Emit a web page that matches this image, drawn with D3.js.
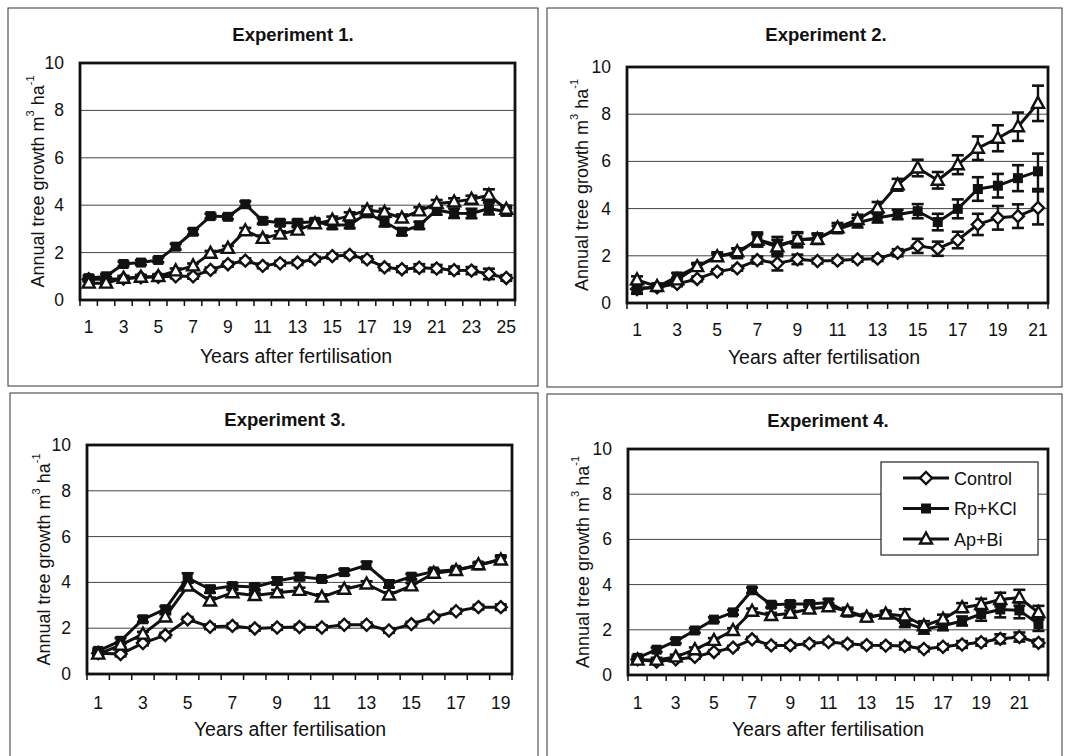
<!DOCTYPE html>
<html><head><meta charset="utf-8">
<script src="https://cdn.jsdelivr.net/npm/d3@7"></script>
<style>body{margin:0;background:#fff}svg{display:block;font-family:"Liberation Sans",Arial,sans-serif}</style>
</head><body><svg id="c" width="1066" height="756"></svg>
<script>
// ---------------- DATA ----------------
const seriesNames = ["Control", "Rp+KCl", "Ap+Bi"];
const yTicks = [0, 2, 4, 6, 8, 10];
const titles = ["Experiment 1.", "Experiment 2.", "Experiment 3.", "Experiment 4."];
const nYears = [25, 21, 19, 22];

const control1 = [0.88,0.88,0.9,0.96,0.98,1.0,1.0,1.27,1.51,1.66,1.44,1.55,1.58,1.72,1.85,1.9,1.72,1.38,1.3,1.36,1.33,1.26,1.24,1.1,0.93];
const rp1 = [0.92,1.0,1.52,1.58,1.69,2.25,2.88,3.54,3.51,4.04,3.34,3.26,3.26,3.3,3.15,3.18,3.66,3.3,2.88,3.15,3.8,3.66,3.65,3.86,3.72];
const ap1 = [0.71,0.71,0.92,0.96,0.99,1.23,1.44,1.97,2.18,2.92,2.6,2.78,2.95,3.22,3.37,3.55,3.8,3.7,3.46,3.76,4.07,4.14,4.25,4.42,3.83];
const controlErr1 = [0.1,0.08,0.08,0.08,0.08,0.08,0.1,0.1,0.1,0.1,0.1,0.1,0.1,0.1,0.1,0.1,0.12,0.12,0.12,0.15,0.15,0.15,0.15,0.22,0.12];
const rpErr1 = [0.12,0.1,0.1,0.1,0.1,0.12,0.12,0.1,0.1,0.12,0.12,0.12,0.12,0.12,0.15,0.15,0.15,0.2,0.15,0.15,0.2,0.2,0.2,0.25,0.15];
const apErr1 = [0.1,0.1,0.1,0.1,0.1,0.1,0.1,0.1,0.1,0.12,0.12,0.12,0.12,0.12,0.15,0.15,0.15,0.15,0.15,0.15,0.15,0.15,0.15,0.25,0.15];

const control2 = [0.59,0.67,0.81,1.02,1.33,1.47,1.82,1.68,1.85,1.78,1.8,1.85,1.88,2.13,2.42,2.3,2.67,3.33,3.61,3.68,4.03];
const rp2 = [0.63,0.67,1.12,1.54,1.99,2.1,2.69,2.45,2.66,2.75,3.12,3.4,3.61,3.75,3.89,3.43,3.99,4.83,4.97,5.29,5.58];
const ap2 = [0.98,0.7,0.98,1.54,1.96,2.17,2.66,2.38,2.7,2.7,3.19,3.54,4.03,5.01,5.72,5.2,5.86,6.56,6.98,7.47,8.46];
const controlErr2 = [0.2,0.1,0.1,0.1,0.1,0.1,0.15,0.3,0.2,0.1,0.1,0.1,0.1,0.15,0.3,0.3,0.35,0.45,0.5,0.5,0.7];
const rpErr2 = [0.2,0.15,0.15,0.15,0.15,0.2,0.3,0.35,0.3,0.2,0.15,0.2,0.2,0.2,0.3,0.35,0.4,0.5,0.5,0.55,0.75];
const apErr2 = [0.15,0.1,0.1,0.1,0.1,0.15,0.25,0.3,0.3,0.2,0.2,0.2,0.25,0.25,0.35,0.35,0.4,0.5,0.55,0.6,0.75];

const control3 = [0.91,0.87,1.35,1.7,2.39,2.06,2.1,1.99,2.03,2.05,2.03,2.15,2.15,1.9,2.18,2.49,2.74,2.92,2.92];
const rp3 = [1.01,1.45,2.39,2.83,4.2,3.7,3.84,3.8,4.06,4.25,4.15,4.45,4.75,3.93,4.25,4.48,4.55,4.74,5.02];
const ap3 = [0.87,1.26,1.74,2.49,3.84,3.19,3.55,3.43,3.55,3.65,3.36,3.7,3.93,3.45,3.85,4.4,4.52,4.77,4.98];
const controlErr3 = [0.1,0.1,0.1,0.1,0.1,0.1,0.1,0.1,0.1,0.1,0.1,0.1,0.1,0.1,0.1,0.1,0.1,0.1,0.12];
const rpErr3 = [0.1,0.12,0.12,0.12,0.2,0.15,0.12,0.12,0.15,0.15,0.1,0.12,0.15,0.15,0.12,0.1,0.1,0.1,0.15];
const apErr3 = [0.1,0.1,0.1,0.12,0.15,0.15,0.12,0.12,0.12,0.12,0.12,0.12,0.12,0.12,0.12,0.1,0.1,0.1,0.12];

const control4 = [0.69,0.6,0.69,0.8,1.02,1.21,1.58,1.31,1.31,1.39,1.46,1.38,1.32,1.3,1.28,1.15,1.25,1.35,1.45,1.6,1.68,1.42];
const rp4 = [0.76,1.12,1.5,1.97,2.45,2.77,3.75,3.11,3.14,3.14,3.21,2.76,2.54,2.69,2.32,2.03,2.18,2.39,2.7,2.9,2.86,2.25];
const ap4 = [0.66,0.66,0.8,1.12,1.53,1.97,2.82,2.63,2.73,2.92,3.02,2.83,2.56,2.7,2.61,2.18,2.47,2.98,3.12,3.34,3.42,2.76];
const controlErr4 = [0.1,0.08,0.08,0.08,0.08,0.08,0.1,0.1,0.1,0.1,0.1,0.1,0.1,0.1,0.15,0.1,0.12,0.15,0.15,0.2,0.2,0.15];
const rpErr4 = [0.1,0.1,0.1,0.1,0.1,0.1,0.12,0.12,0.12,0.12,0.15,0.15,0.12,0.12,0.2,0.2,0.2,0.2,0.3,0.35,0.35,0.3];
const apErr4 = [0.1,0.1,0.1,0.1,0.1,0.1,0.12,0.12,0.12,0.12,0.15,0.15,0.12,0.12,0.3,0.2,0.2,0.2,0.25,0.3,0.35,0.3];

// ---------------- LAYOUT ----------------
const panels = [
  {frame:[8,8,538,386], plot:[80,63,515,300], title:[293,35], tickY:333, xTitleY:363, xTitleX:296, yTitleX:38,
   series:[[control1,controlErr1],[rp1,rpErr1],[ap1,apErr1]]},
  {frame:[547,8,1062,387], plot:[627,67,1048,303], title:[826,35], tickY:336, xTitleY:364, xTitleX:824, yTitleX:582,
   series:[[control2,controlErr2],[rp2,rpErr2],[ap2,apErr2]]},
  {frame:[10,393,538,770], plot:[87,445,512,674], title:[285,420], tickY:709, xTitleY:736, xTitleX:290, yTitleX:44,
   series:[[control3,controlErr3],[rp3,rpErr3],[ap3,apErr3]]},
  {frame:[547,394,1062,770], plot:[628,449,1048,675], title:[828,421], tickY:709, xTitleY:736, xTitleX:828, yTitleX:583,
   series:[[control4,controlErr4],[rp4,rpErr4],[ap4,apErr4]], legend:true}
];

const svg = d3.select("#c");

function drawMarker(g, type, x, y) {
  if (type === 0) {
    g.append("path").attr("d", `M${x},${y-6}L${x+6},${y}L${x},${y+6}L${x-6},${y}Z`)
      .attr("fill", "#fff").attr("stroke", "#111").attr("stroke-width", 2.4);
  } else if (type === 1) {
    g.append("rect").attr("x", x-5).attr("y", y-5).attr("width", 10).attr("height", 10).attr("fill", "#111");
  } else {
    g.append("path").attr("d", `M${x},${y-6.5}L${x+6},${y+4.5}L${x-6},${y+4.5}Z`)
      .attr("fill", "#fff").attr("stroke", "#111").attr("stroke-width", 2.4);
  }
}

panels.forEach((p, pi) => {
  const [fx0, fy0, fx1, fy1] = p.frame;
  svg.append("rect").attr("x", fx0).attr("y", fy0).attr("width", fx1 - fx0).attr("height", fy1 - fy0)
    .attr("fill", "none").attr("stroke", "#333").attr("stroke-width", 1);

  const [px0, py0, px1, py1] = p.plot;
  const n = nYears[pi];
  const years = d3.range(1, n + 1);
  const x = d3.scaleBand().domain(years).range([px0, px1]).padding(0);
  const y = d3.scaleLinear().domain([0, 10]).range([py1, py0]);
  const cx = d => x(d) + x.bandwidth() / 2;

  const g = svg.append("g");
  g.selectAll(".grid").data(yTicks.filter(t => t > 0 && t < 10)).enter().append("line")
    .attr("x1", px0).attr("x2", px1).attr("y1", d => y(d)).attr("y2", d => y(d))
    .attr("stroke", "#444").attr("stroke-width", 1);

  const bounds = d3.range(0, n + 1).map(i => px0 + i * x.bandwidth());
  g.selectAll(".xt").data(bounds).enter().append("line")
    .attr("x1", d => d).attr("x2", d => d).attr("y1", py1).attr("y2", py1 + 6)
    .attr("stroke", "#111").attr("stroke-width", 1.5);

  g.selectAll(".xl").data(years.filter(v => v % 2 === 1)).enter().append("text")
    .attr("x", d => cx(d)).attr("y", p.tickY).attr("text-anchor", "middle")
    .attr("font-size", 17.5).attr("fill", "#111").text(d => d);

  g.selectAll(".yl").data(yTicks).enter().append("text")
    .attr("x", px0 - 16).attr("y", d => y(d) + 6).attr("text-anchor", "end")
    .attr("font-size", 17.5).attr("fill", "#111").text(d => d);

  g.append("text").attr("x", p.title[0]).attr("y", p.title[1] + 6).attr("text-anchor", "middle")
    .attr("font-size", 18.5).attr("font-weight", "bold").attr("fill", "#111").text(titles[pi]);
  g.append("text").attr("x", p.xTitleX).attr("y", p.xTitleY).attr("text-anchor", "middle")
    .attr("font-size", 19.5).attr("fill", "#111").text("Years after fertilisation");
  const yt = g.append("text").attr("transform", `translate(${p.yTitleX},${(py0 + py1) / 2}) rotate(-90)`)
    .attr("text-anchor", "middle").attr("dominant-baseline", "central")
    .attr("font-size", 18).attr("fill", "#111");
  yt.append("tspan").text("Annual tree growth m");
  yt.append("tspan").attr("font-size", 11).attr("dy", -8).text("3");
  yt.append("tspan").attr("dy", 8).text(" ha");
  yt.append("tspan").attr("font-size", 11).attr("dy", -8).text("-1");

  const line = d3.line().x((d, i) => cx(years[i])).y(d => y(d));
  p.series.forEach(([vals, errs], si) => {
    const sg = g.append("g");
    sg.append("path").attr("d", line(vals)).attr("fill", "none")
      .attr("stroke", "#111").attr("stroke-width", 3).attr("stroke-linejoin", "round");
    vals.forEach((v, i) => {
      const xx = cx(years[i]);
      const e = errs[i];
      sg.append("line").attr("x1", xx).attr("x2", xx).attr("y1", y(v - e)).attr("y2", y(v + e))
        .attr("stroke", "#111").attr("stroke-width", 2.4);
      [v - e, v + e].forEach(w => sg.append("line").attr("x1", xx - 6).attr("x2", xx + 6)
        .attr("y1", y(w)).attr("y2", y(w)).attr("stroke", "#111").attr("stroke-width", 2.6));
    });
    vals.forEach((v, i) => drawMarker(sg, si, cx(years[i]), y(v)));
  });

  g.append("rect").attr("x", px0).attr("y", py0).attr("width", px1 - px0).attr("height", py1 - py0)
    .attr("fill", "none").attr("stroke", "#111").attr("stroke-width", 2.8);

  if (p.legend) {
    const lg = svg.append("g");
    lg.append("rect").attr("x", 881).attr("y", 462).attr("width", 157).attr("height", 93)
      .attr("fill", "#fff").attr("stroke", "#222").attr("stroke-width", 1.2);
    seriesNames.forEach((name, si) => {
      const ly = 478 + si * 30.5;
      lg.append("line").attr("x1", 903).attr("x2", 949).attr("y1", ly).attr("y2", ly)
        .attr("stroke", "#111").attr("stroke-width", 2.8);
      drawMarker(lg, si, 926, ly);
      lg.append("text").attr("x", 954).attr("y", ly + 6.5).attr("font-size", 18).attr("fill", "#111").text(name);
    });
  }
});
</script></body></html>
